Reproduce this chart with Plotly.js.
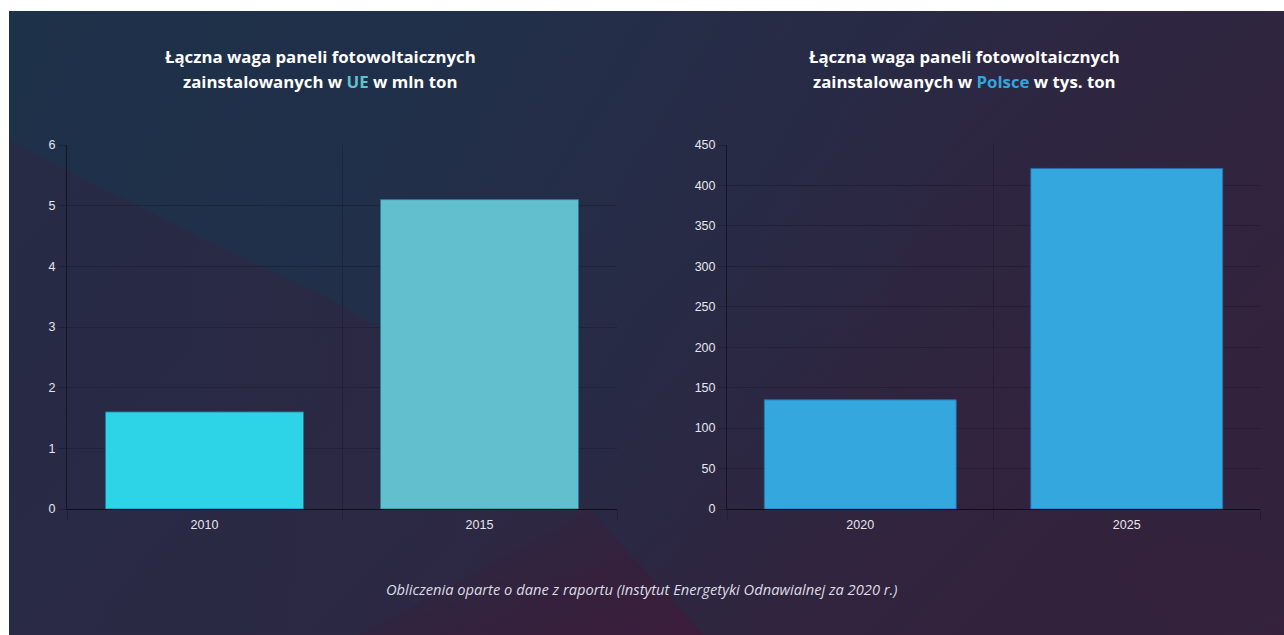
<!DOCTYPE html>
<html>
<head>
<meta charset="utf-8">
<script src="https://cdn.plot.ly/plotly-3.0.1.min.js"></script>
<style>
  html, body { margin:0; padding:0; background:#ffffff; width:1284px; height:635px; overflow:hidden; }
  #bg { position:absolute; left:0; top:0; width:1284px; height:635px; }
  #chart { position:absolute; left:0; top:0; width:1284px; height:635px; }
</style>
</head>
<body>
<svg id="bg" width="1284" height="635" viewBox="0 0 1284 635" xmlns="http://www.w3.org/2000/svg">
  <defs>
    <linearGradient id="base" x1="0" y1="0" x2="1" y2="0.5">
      <stop offset="0" stop-color="#262b46"/>
      <stop offset="0.55" stop-color="#2a2944"/>
      <stop offset="1" stop-color="#33223c"/>
    </linearGradient>
    <linearGradient id="blue" x1="0" y1="0" x2="1" y2="0.35">
      <stop offset="0" stop-color="#1d3149" stop-opacity="1"/>
      <stop offset="0.45" stop-color="#20304a" stop-opacity="0.85"/>
      <stop offset="0.75" stop-color="#232d48" stop-opacity="0.4"/>
      <stop offset="1" stop-color="#262b46" stop-opacity="0"/>
    </linearGradient>
    <linearGradient id="purp" x1="0" y1="0" x2="1" y2="0">
      <stop offset="0" stop-color="#272b46" stop-opacity="0.0"/>
      <stop offset="0.6" stop-color="#2d2843" stop-opacity="0.6"/>
      <stop offset="1" stop-color="#302641" stop-opacity="0.8"/>
    </linearGradient>
    <linearGradient id="maroon" x1="1" y1="1" x2="0" y2="0.2">
      <stop offset="0" stop-color="#3c1d3a" stop-opacity="1"/>
      <stop offset="0.45" stop-color="#361f3b" stop-opacity="0.7"/>
      <stop offset="1" stop-color="#2d2843" stop-opacity="0"/>
    </linearGradient>
    <linearGradient id="rmaroon" x1="0" y1="0" x2="1" y2="1">
      <stop offset="0" stop-color="#33223d" stop-opacity="0"/>
      <stop offset="1" stop-color="#36203b" stop-opacity="0.8"/>
    </linearGradient>
  </defs>
  <rect x="9" y="11" width="1275" height="624" fill="url(#base)"/>
  <path d="M9,11 L1000,11 L760,635 L704,635 L590,510 L532,466 L459,405 L380,330 L333,300 L200,237 L67,170 L9,140 Z" fill="url(#blue)"/>
  <path d="M9,140 L67,170 L200,237 L333,300 L380,330 L459,405 L532,466 L590,510 L704,635 L9,635 Z" fill="url(#purp)"/>
  <path d="M590,510 L704,635 L360,635 Z" fill="url(#maroon)"/>
  <path d="M1043,505 L1284,560 L1284,635 L1180,635 Z" fill="url(#rmaroon)" opacity="0.6"/>
</svg>
<div id="chart"></div>
<script>
// ---- data ----
const catsEU = ['2010', '2015'];
const valsEU = [1.6, 5.1];
const colorsEU = ['#2dd3e7', '#62bfce'];
const ticksEU = [0, 1, 2, 3, 4, 5, 6];

const catsPL = ['2020', '2025'];
const valsPL = [135, 421];
const colorsPL = ['#34a8de', '#34a8de'];
const ticksPL = [0, 50, 100, 150, 200, 250, 300, 350, 400, 450];

const titleEU1 = 'Łączna waga paneli fotowoltaicznych';
const titleEU2 = 'zainstalowanych w <span style="color:#5cc3cf">UE</span> w mln ton';
const titlePL1 = 'Łączna waga paneli fotowoltaicznych';
const titlePL2 = 'zainstalowanych w <span style="color:#33a5dd">Polsce</span> w tys. ton';
const footnote = 'Obliczenia oparte o dane z raportu (Instytut Energetyki Odnawialnej za 2020 r.)';

// ---- layout helpers ----
const W = 1284, H = 635;
const gridC = 'rgba(10,14,28,0.28)';
const axisC = 'rgba(12,14,26,0.75)';
const tickFont = {family: 'Liberation Sans, Arial, sans-serif', size: 12.5, color: '#e6e6ec'};
const px = v => v / W;
const py = v => 1 - v / H;

function xax(l, r) {
  return {
    domain: [px(l), px(r)], type: 'category', tickson: 'boundaries',
    ticks: 'outside', ticklen: 10, tickcolor: gridC, tickwidth: 1,
    showgrid: true, gridcolor: gridC, gridwidth: 1,
    showline: true, linecolor: axisC, linewidth: 1,
    ticklabelstandoff: 4,
    tickfont: tickFont, fixedrange: true
  };
}
function yax(range, vals, anchor) {
  return {
    domain: [py(509), py(145)], range: range, tickvals: vals, anchor: anchor,
    ticks: 'outside', ticklen: 8, tickcolor: gridC,
    showgrid: true, gridcolor: gridC, gridwidth: 1,
    showline: true, linecolor: axisC, linewidth: 1,
    zeroline: true, zerolinecolor: axisC, zerolinewidth: 1,
    tickfont: tickFont, fixedrange: true
  };
}

const traces = [
  {type: 'bar', x: catsEU, y: valsEU, xaxis: 'x', yaxis: 'y',
   marker: {color: colorsEU, line: {color: 'rgba(40,120,150,0.9)', width: 1}},
   hoverinfo: 'x+y'},
  {type: 'bar', x: catsPL, y: valsPL, xaxis: 'x2', yaxis: 'y2',
   marker: {color: colorsPL, line: {color: 'rgba(40,110,170,0.9)', width: 1}},
   hoverinfo: 'x+y'}
];

const titleFont = {family: 'Open Sans, sans-serif', size: 16.8, color: '#ffffff', weight: 700};
function ann(text, x, y, font) {
  return {text: text, x: px(x), y: py(y), xref: 'paper', yref: 'paper',
          xanchor: 'center', yanchor: 'middle', showarrow: false, font: font};
}

const layout = {
  width: W, height: H,
  margin: {l: 0, r: 0, t: 0, b: 0},
  paper_bgcolor: 'rgba(0,0,0,0)', plot_bgcolor: 'rgba(0,0,0,0)',
  showlegend: false, bargap: 0.28,
  xaxis: xax(67, 617),
  yaxis: yax([0, 6], ticksEU, 'x'),
  xaxis2: xax(727, 1260),
  yaxis2: yax([0, 450], ticksPL, 'x2'),
  annotations: [
    ann('<b>' + titleEU1 + '</b>', 320, 56, titleFont),
    ann('<b>' + titleEU2 + '</b>', 320, 82, titleFont),
    ann('<b>' + titlePL1 + '</b>', 965, 56, titleFont),
    ann('<b>' + titlePL2 + '</b>', 965, 82, titleFont),
    ann('<i>' + footnote + '</i>', 641, 589, {family: 'Open Sans, sans-serif', size: 14.7, color: '#dcdce4'})
  ]
};

Plotly.newPlot('chart', traces, layout, {displayModeBar: false, staticPlot: true});
</script>
</body>
</html>
